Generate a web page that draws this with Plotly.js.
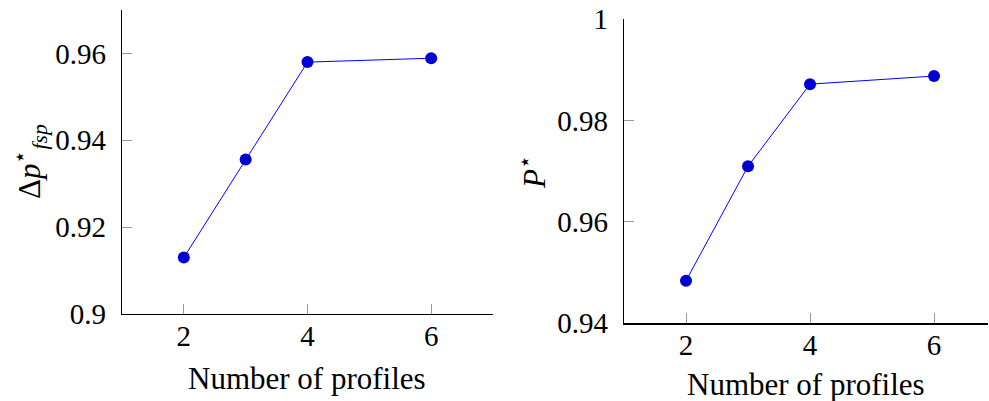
<!DOCTYPE html>
<html>
<head>
<meta charset="utf-8">
<script src="https://cdn.plot.ly/plotly-3.0.1.min.js"></script>
<style>html,body{margin:0;padding:0;background:#fff;}#chart{width:989px;height:401px;}</style>
</head>
<body>
<div id="chart"></div>
<script>
const profiles = [2, 3, 4, 6];
const deltaP = [0.913, 0.9356, 0.9580, 0.9589];
const pStar = [0.9484, 0.9710, 0.9872, 0.9888];
const xTicks = [2, 4, 6];
const yTicksLeft = [0.9, 0.92, 0.94, 0.96];
const yTicksLeftText = ['0.9', '0.92', '0.94', '0.96'];
const yTicksRight = [0.94, 0.96, 0.98, 1];
const yTicksRightText = ['0.94', '0.96', '0.98', '1'];
const xTitle = 'Number of profiles';
const yTitleLeft = 'Δ<i>p</i><sup>⋆</sup><sub><i>fsp</i></sub>';
const yTitleRight = '<i>P</i><sup>⋆</sup>';

const W = 989, H = 401;
const FONT = 'Liberation Serif, Times New Roman, serif';
const lineColor = '#0000ff';
const markerColor = '#0000d0';

function trace(x, y, xa, ya) {
  return {
    x: x, y: y, xaxis: xa, yaxis: ya, type: 'scatter', mode: 'lines+markers',
    line: {color: lineColor, width: 1},
    marker: {color: markerColor, size: 12},
    showlegend: false, hoverinfo: 'skip'
  };
}

const axisCommon = {
  showgrid: false, zeroline: false, showline: true, linecolor: '#000', linewidth: 1.3,
  ticks: 'inside', ticklen: 10, tickwidth: 1, tickcolor: '#999',
  tickfont: {family: FONT, size: 29, color: '#000'}, tickmode: 'array', fixedrange: true
};

const layout = {
  width: W, height: H,
  font: {family: FONT, size: 29, color: '#000'},
  margin: {l: 0, r: 0, t: 0, b: 0},
  paper_bgcolor: '#fff', plot_bgcolor: '#fff',
  xaxis: Object.assign({}, axisCommon, {domain: [122/W, 493/W], range: [1, 7], tickvals: xTicks, ticktext: xTicks.map(String), anchor: 'y', ticklabelstandoff: -4}),
  yaxis: Object.assign({}, axisCommon, {domain: [(H-314)/H, (H-10)/H], range: [0.9, 0.97], tickvals: yTicksLeft, ticktext: yTicksLeftText, anchor: 'x', ticklabelstandoff: 9}),
  xaxis2: Object.assign({}, axisCommon, {domain: [624/W, 988/W], range: [1, 6.87], tickvals: xTicks, ticktext: xTicks.map(String), anchor: 'y2', ticklabelstandoff: -4}),
  yaxis2: Object.assign({}, axisCommon, {domain: [(H-323.3)/H, (H-19.3)/H], range: [0.94, 1.0], tickvals: yTicksRight, ticktext: yTicksRightText, anchor: 'x2', ticklabelstandoff: 9}),
  annotations: [
    {text: xTitle, xref: 'paper', yref: 'paper', x: 307/W, y: (H-378)/H, xanchor: 'center', yanchor: 'middle', showarrow: false, font: {family: FONT, size: 31, color: '#000'}},
    {text: xTitle, xref: 'paper', yref: 'paper', x: 806/W, y: (H-384)/H, xanchor: 'center', yanchor: 'middle', showarrow: false, font: {family: FONT, size: 31, color: '#000'}},
    {text: yTitleLeft, xref: 'paper', yref: 'paper', x: 30/W, y: (H-162)/H, xanchor: 'center', yanchor: 'middle', textangle: -90, showarrow: false, font: {family: FONT, size: 31, color: '#000'}},
    {text: yTitleRight, xref: 'paper', yref: 'paper', x: 532/W, y: (H-172)/H, xanchor: 'center', yanchor: 'middle', textangle: -90, showarrow: false, font: {family: FONT, size: 31, color: '#000'}}
  ]
};

Plotly.newPlot('chart', [trace(profiles, deltaP, 'x', 'y'), trace(profiles, pStar, 'x2', 'y2')], layout, {displayModeBar: false, staticPlot: true});
</script>
</body>
</html>
